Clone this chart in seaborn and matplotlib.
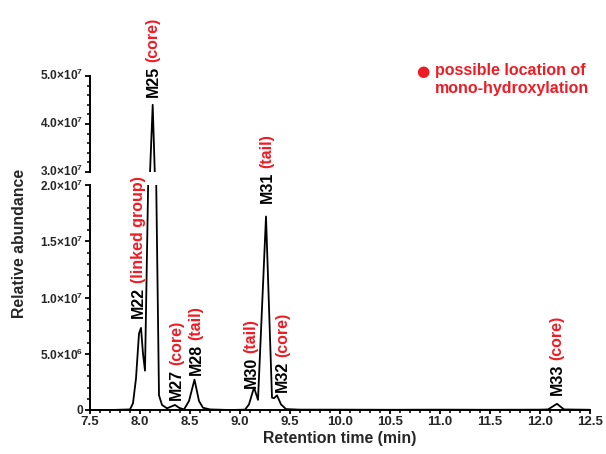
import numpy as np
import pandas as pd
import matplotlib
matplotlib.use("Agg")
import matplotlib.pyplot as plt
import seaborn as sns
from matplotlib.ticker import MultipleLocator, FixedLocator, FixedFormatter
import matplotlib.transforms as mtransforms

# ---- data ----
rt_min = [7.50, 7.70, 7.90, 7.93, 7.96, 7.99, 8.01, 8.03, 8.05, 8.127, 8.19, 8.22,
          8.27, 8.31, 8.35, 8.39, 8.44, 8.49, 8.545, 8.59, 8.63, 8.70, 8.90, 9.05,
          9.09, 9.14, 9.18, 9.26, 9.32, 9.34, 9.37, 9.41, 9.46, 9.60, 10.0, 10.5,
          11.0, 11.5, 12.0, 12.08, 12.17, 12.24, 12.5]
abundance = [0.0, 0.0, 0.05e6, 0.6e6, 2.8e6, 6.8e6, 7.3e6, 5.0e6, 3.5e6, 4.40e7, 1.3e6, 0.45e6,
             0.15e6, 0.3e6, 0.45e6, 0.2e6, 0.05e6, 0.8e6, 2.7e6, 0.8e6, 0.2e6, 0.05e6, 0.0, 0.03e6,
             0.5e6, 2.0e6, 0.9e6, 1.72e7, 1.1e6, 1.05e6, 1.3e6, 0.5e6, 0.08e6, 0.03e6, 0.03e6, 0.02e6,
             0.03e6, 0.02e6, 0.03e6, 0.05e6, 0.55e6, 0.05e6, 0.02e6]

peak_ids = ["M22", "M25", "M27", "M28", "M30", "M31", "M32", "M33"]
peak_sites = ["(linked group)", "(core)", "(core)", "(tail)", "(tail)", "(tail)", "(core)", "(core)"]
peak_rt = [8.01, 8.127, 8.35, 8.545, 9.14, 9.26, 9.37, 12.17]
peak_val = [7.3e6, 4.40e7, 0.45e6, 2.7e6, 2.0e6, 1.72e7, 1.3e6, 0.55e6]

lower_ticks = [0, 5.0e6, 1.0e7, 1.5e7, 2.0e7]
lower_ticklabels = ["0", "5.0×10$^{6}$", "1.0×10$^{7}$", "1.5×10$^{7}$", "2.0×10$^{7}$"]
upper_ticks = [3.0e7, 4.0e7, 5.0e7]
upper_ticklabels = ["3.0×10$^{7}$", "4.0×10$^{7}$", "5.0×10$^{7}$"]
x_ticks = [7.5, 8.0, 8.5, 9.0, 9.5, 10.0, 10.5, 11.0, 11.5, 12.0, 12.5]

df = pd.DataFrame({"rt": rt_min, "ab": abundance})

# ---- style ----
sns.set_style("ticks")
plt.rcParams["font.family"] = ["Liberation Sans", "DejaVu Sans"]
plt.rcParams["font.weight"] = "bold"
plt.rcParams["mathtext.fontset"] = "custom"
plt.rcParams["mathtext.rm"] = "Liberation Sans:bold"
plt.rcParams["mathtext.bf"] = "Liberation Sans:bold"
plt.rcParams["mathtext.it"] = "Liberation Sans:bold"

W, H = 606, 454
fig = plt.figure(figsize=(W / 100, H / 100), dpi=100)
left, right = 90 / W, 590 / W
ax_lo = fig.add_axes([left, (H - 410) / H, right - left, 225 / H])
ax_hi = fig.add_axes([left, (H - 172) / H, right - left, 96 / H], sharex=ax_lo)

RED = "#ee1c25"
lw_sp = 1.4
for ax in (ax_lo, ax_hi):
    sns.lineplot(data=df, x="rt", y="ab", ax=ax, color="black", linewidth=1.3,
                 estimator=None, sort=False)
    ax.set_xlabel("")
    ax.set_ylabel("")
    ax.set_facecolor("none")
    for s in ("top", "right"):
        ax.spines[s].set_visible(False)
    for s in ("left", "bottom"):
        ax.spines[s].set_linewidth(lw_sp)
        ax.spines[s].set_color("black")
    ax.tick_params(axis="y", which="major", length=3.6, width=1.3, color="black",
                   labelsize=8.6, pad=1.5)
    ax.tick_params(axis="y", which="minor", length=2.2, width=1.1, color="black")
    ax.tick_params(axis="x", which="major", length=3.0, width=1.3, color="black",
                   labelsize=9.5, pad=1.5)
    ax.tick_params(axis="x", which="minor", length=2.0, width=1.1, color="black")

ax_hi.spines["bottom"].set_visible(False)
ax_hi.tick_params(axis="x", which="both", bottom=False, labelbottom=False)

ax_lo.set_xlim(7.5, 12.5)
ax_lo.xaxis.set_major_locator(FixedLocator(x_ticks))
ax_lo.xaxis.set_major_formatter(FixedFormatter([f"{v:.1f}" for v in x_ticks]))
ax_lo.xaxis.set_minor_locator(MultipleLocator(0.1))

ax_lo.set_ylim(0, 2.0e7)
ax_lo.yaxis.set_major_locator(FixedLocator(lower_ticks))
ax_lo.yaxis.set_major_formatter(FixedFormatter(lower_ticklabels))
ax_lo.yaxis.set_minor_locator(MultipleLocator(1.0e6))

ax_hi.set_ylim(3.0e7, 5.0e7)
ax_hi.yaxis.set_major_locator(FixedLocator(upper_ticks))
ax_hi.yaxis.set_major_formatter(FixedFormatter(upper_ticklabels))
ax_hi.yaxis.set_minor_locator(MultipleLocator(2.0e6))

for lab in ax_lo.get_xticklabels() + ax_lo.get_yticklabels() + ax_hi.get_yticklabels():
    lab.set_fontweight("bold")

# nudge the upper-axis tick labels up a little so they do not touch the lower ones
shift_up = mtransforms.ScaledTranslation(0, 1.5 / 72, fig.dpi_scale_trans)
for lab in ax_hi.get_yticklabels():
    lab.set_transform(lab.get_transform() + shift_up)

# ---- peak labels (black id + red site), rotated ----
label_offsets_pt = [(-1.8, 7.2), (0.2, 5.8), (1.0, 3.6), (1.0, 3.6), (-2.2, 0.0),
                    (0.7, 10.0), (4.0, 2.2), (0.0, 6.5)]
fs = 11.5
for pid, site, xr, yv, off in zip(peak_ids, peak_sites, peak_rt, peak_val, label_offsets_pt):
    ax = ax_hi if yv > 2.0e7 else ax_lo
    t1 = ax.annotate(pid, xy=(xr, yv), xycoords="data", xytext=off, textcoords="offset points",
                     rotation=90, ha="center", va="bottom", fontsize=fs, fontweight="bold",
                     color="black", annotation_clip=False)
    ax.annotate(site, xy=(0.5, 1.0), xycoords=t1, xytext=(0, 2.6), textcoords="offset points",
                rotation=90, ha="center", va="bottom", fontsize=fs, fontweight="bold",
                color=RED, annotation_clip=False)

# ---- axis titles ----
fig.text(20 / W, 1 - 243 / H, "Relative abundance", rotation=90, ha="center", va="center",
         fontsize=11.4, fontweight="bold")
fig.text((left + right) / 2, 1 - 438 / H, "Retention time (min)", ha="center", va="center",
         fontsize=11.4, fontweight="bold")

# ---- legend note ----
fig.text(423 / W, 1 - 71 / H, "●", ha="center", va="center", fontsize=11, color=RED,
         family=["DejaVu Sans"])
fig.text(435 / W, 1 - 71 / H, "possible location of", ha="left", va="center",
         fontsize=11.5, fontweight="bold", color=RED)
fig.text(435 / W, 1 - 89 / H, "mono-hydroxylation", ha="left", va="center",
         fontsize=11.5, fontweight="bold", color=RED)

fig.savefig("out.png", dpi=100, facecolor="white")
